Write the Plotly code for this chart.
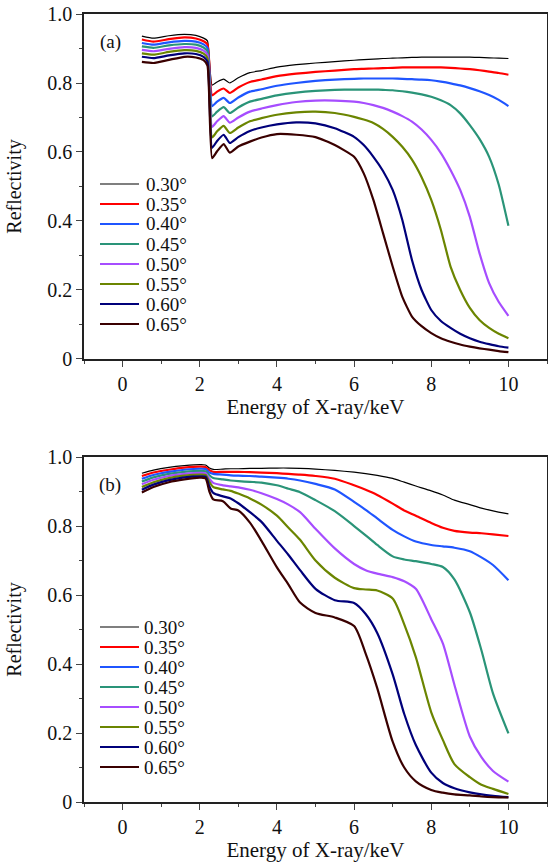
import plotly.graph_objects as go

# incidence angles and line colours
angles = ['0.30°', '0.35°', '0.40°', '0.45°', '0.50°', '0.55°', '0.60°', '0.65°']
colors = ['#000000', '#ff0000', '#1f55ff', '#2a9478', '#a64dff', '#6b8500', '#00007a', '#3a0000']
widths = [1.2, 2.2, 2.2, 2.2, 2.2, 2.2, 2.2, 2.2]

# ---- panel (a) ----
energy_a = [0.5, 0.8, 1.2, 1.6, 1.9, 2.1, 2.2, 2.32, 2.45, 2.62, 2.78, 3.0, 3.3, 3.6,
            4.0, 4.5, 5.0, 5.5, 6.0, 6.25, 6.5, 6.75, 7.0, 7.25, 7.5, 7.75, 8.0, 8.25,
            8.5, 8.75, 9.0, 9.25, 9.5, 9.75, 10.0]
refl_a_030 = [0.936, 0.930, 0.937, 0.941, 0.938, 0.930, 0.922, 0.794, 0.803, 0.811, 0.800,
              0.815, 0.830, 0.836, 0.846, 0.853, 0.858, 0.862, 0.866, 0.868, 0.869, 0.871, 0.872,
              0.873, 0.874, 0.875, 0.875, 0.875, 0.875, 0.875, 0.875, 0.874, 0.873, 0.872, 0.871]
refl_a_035 = [0.926, 0.920, 0.927, 0.932, 0.929, 0.921, 0.912, 0.764, 0.775, 0.784, 0.771,
              0.787, 0.803, 0.810, 0.820, 0.827, 0.832, 0.836, 0.840, 0.841, 0.842, 0.843, 0.844,
              0.845, 0.845, 0.845, 0.845, 0.845, 0.844, 0.842, 0.840, 0.837, 0.833, 0.829, 0.824]
refl_a_040 = [0.916, 0.911, 0.918, 0.922, 0.920, 0.912, 0.902, 0.733, 0.746, 0.757, 0.742,
              0.758, 0.775, 0.782, 0.792, 0.800, 0.806, 0.810, 0.812, 0.813, 0.813, 0.813, 0.813,
              0.812, 0.811, 0.810, 0.808, 0.804, 0.799, 0.793, 0.785, 0.776, 0.765, 0.751, 0.733]
refl_a_045 = [0.906, 0.902, 0.909, 0.913, 0.911, 0.903, 0.892, 0.703, 0.717, 0.730, 0.713,
              0.729, 0.746, 0.754, 0.764, 0.772, 0.777, 0.780, 0.781, 0.781, 0.781, 0.780, 0.779,
              0.776, 0.772, 0.767, 0.760, 0.750, 0.736, 0.712, 0.678, 0.638, 0.586, 0.505, 0.386]
refl_a_050 = [0.896, 0.892, 0.899, 0.904, 0.902, 0.894, 0.882, 0.673, 0.689, 0.704, 0.685,
              0.700, 0.717, 0.726, 0.736, 0.745, 0.749, 0.749, 0.746, 0.742, 0.736, 0.728, 0.717,
              0.704, 0.688, 0.665, 0.635, 0.597, 0.548, 0.490, 0.412, 0.307, 0.220, 0.165, 0.125]
refl_a_055 = [0.886, 0.882, 0.890, 0.895, 0.893, 0.885, 0.872, 0.642, 0.660, 0.676, 0.655,
              0.671, 0.689, 0.698, 0.708, 0.715, 0.717, 0.713, 0.702, 0.694, 0.684, 0.667, 0.644,
              0.615, 0.578, 0.527, 0.461, 0.374, 0.268, 0.200, 0.148, 0.113, 0.090, 0.073, 0.060]
refl_a_060 = [0.876, 0.872, 0.880, 0.886, 0.884, 0.876, 0.862, 0.612, 0.632, 0.650, 0.626,
              0.643, 0.661, 0.671, 0.680, 0.686, 0.683, 0.669, 0.644, 0.620, 0.586, 0.545, 0.490,
              0.403, 0.287, 0.200, 0.142, 0.110, 0.090, 0.073, 0.060, 0.050, 0.043, 0.037, 0.033]
refl_a_065 = [0.861, 0.858, 0.867, 0.876, 0.874, 0.866, 0.850, 0.582, 0.602, 0.623, 0.598,
              0.616, 0.630, 0.642, 0.652, 0.650, 0.643, 0.620, 0.586, 0.538, 0.461, 0.365, 0.268,
              0.180, 0.123, 0.095, 0.075, 0.060, 0.050, 0.042, 0.036, 0.031, 0.027, 0.023, 0.020]

# ---- panel (b) ----
energy_b = [0.5, 0.8, 1.2, 1.6, 2.0, 2.15, 2.25, 2.35, 2.6, 2.8, 3.0, 3.3, 3.6, 4.0, 4.3, 4.6,
            5.0, 5.5, 6.0, 6.3, 6.6, 7.0, 7.3, 7.6, 8.0, 8.3, 8.6, 9.0, 9.3, 9.6, 10.0]
refl_b_030 = [0.953, 0.962, 0.970, 0.975, 0.978, 0.977, 0.968, 0.964, 0.965, 0.966, 0.966, 0.967,
              0.967, 0.968, 0.968, 0.967, 0.965, 0.961, 0.956, 0.952, 0.947, 0.938, 0.927, 0.916,
              0.902, 0.890, 0.875, 0.862, 0.852, 0.844, 0.835]
refl_b_035 = [0.945, 0.955, 0.963, 0.969, 0.972, 0.971, 0.962, 0.957, 0.957, 0.957, 0.957, 0.956,
              0.955, 0.953, 0.951, 0.949, 0.945, 0.937, 0.918, 0.905, 0.890, 0.865, 0.845, 0.830,
              0.809, 0.795, 0.786, 0.781, 0.779, 0.776, 0.771]
refl_b_040 = [0.937, 0.948, 0.957, 0.963, 0.966, 0.965, 0.955, 0.951, 0.949, 0.947, 0.946, 0.945,
              0.943, 0.940, 0.937, 0.932, 0.922, 0.906, 0.870, 0.847, 0.822, 0.789, 0.770, 0.755,
              0.745, 0.741, 0.737, 0.727, 0.709, 0.687, 0.643]
refl_b_045 = [0.929, 0.941, 0.951, 0.957, 0.960, 0.959, 0.947, 0.939, 0.935, 0.932, 0.930, 0.928,
              0.926, 0.918, 0.908, 0.898, 0.875, 0.843, 0.800, 0.773, 0.745, 0.712, 0.703, 0.698,
              0.690, 0.681, 0.645, 0.550, 0.440, 0.315, 0.199]
refl_b_050 = [0.921, 0.934, 0.945, 0.951, 0.954, 0.953, 0.937, 0.925, 0.918, 0.915, 0.912, 0.905,
              0.895, 0.878, 0.862, 0.840, 0.792, 0.735, 0.690, 0.672, 0.662, 0.652, 0.640, 0.618,
              0.530, 0.460, 0.340, 0.190, 0.130, 0.090, 0.059]
refl_b_055 = [0.913, 0.927, 0.939, 0.946, 0.949, 0.948, 0.928, 0.913, 0.906, 0.902, 0.894, 0.880,
              0.862, 0.830, 0.795, 0.760, 0.700, 0.650, 0.620, 0.616, 0.613, 0.590, 0.515, 0.420,
              0.260, 0.180, 0.110, 0.072, 0.050, 0.038, 0.023]
refl_b_060 = [0.905, 0.920, 0.933, 0.941, 0.944, 0.943, 0.915, 0.896, 0.886, 0.880, 0.866, 0.840,
              0.812, 0.757, 0.716, 0.672, 0.618, 0.585, 0.577, 0.545, 0.490, 0.370, 0.255, 0.165,
              0.085, 0.055, 0.040, 0.028, 0.022, 0.018, 0.014]
refl_b_065 = [0.897, 0.913, 0.927, 0.935, 0.940, 0.938, 0.900, 0.877, 0.872, 0.851, 0.845, 0.810,
              0.757, 0.680, 0.630, 0.578, 0.548, 0.535, 0.510, 0.430, 0.330, 0.175, 0.100, 0.060,
              0.035, 0.027, 0.022, 0.019, 0.016, 0.014, 0.013]

series_a = [refl_a_030, refl_a_035, refl_a_040, refl_a_045, refl_a_050, refl_a_055, refl_a_060, refl_a_065]
series_b = [refl_b_030, refl_b_035, refl_b_040, refl_b_045, refl_b_050, refl_b_055, refl_b_060, refl_b_065]

y_tickvals = [0, 0.2, 0.4, 0.6, 0.8, 1.0]
y_ticktext = ['0', '0.2', '0.4', '0.6', '0.8', '1.0']

FONT = 'Liberation Serif'
W, H = 548, 865
ML, MR, MT, MB = 84, 1, 14, 63


def px_to_paper(px, py):
    return (px - ML) / (W - ML - MR), (H - MB - py) / (H - MT - MB)


fig = go.Figure()

for name, col, w, ya in zip(angles, colors, widths, series_a):
    fig.add_trace(go.Scatter(x=energy_a, y=ya, mode='lines', name=name, showlegend=False,
                             line=dict(color=col, width=w, shape='spline', smoothing=0.5),
                             xaxis='x', yaxis='y'))

for name, col, w, yb in zip(angles, colors, widths, series_b):
    fig.add_trace(go.Scatter(x=energy_b, y=yb, mode='lines', name=name, showlegend=False,
                             line=dict(color=col, width=w, shape='spline', smoothing=0.7),
                             xaxis='x2', yaxis='y2'))


def x_axis(anchor):
    return dict(range=[-1, 11], dtick=2, tick0=0, ticks='outside', ticklen=6, tickwidth=1.2,
                minor=dict(dtick=1, tick0=1, ticks='outside', ticklen=3, tickwidth=1),
                showline=True, linecolor='#222', linewidth=1.5, mirror=True,
                showgrid=False, zeroline=False, anchor=anchor, automargin=False,
                ticklabeloverflow='allow',
                title=dict(text='Energy of X-ray/keV', standoff=6, font=dict(size=21)),
                tickfont=dict(size=20))


def y_axis(domain, anchor):
    return dict(range=[0, 1], domain=domain, tickvals=y_tickvals, ticktext=y_ticktext,
                ticks='outside', ticklen=6, tickwidth=1.2,
                minor=dict(dtick=0.1, tick0=0, ticks='outside', ticklen=3, tickwidth=1),
                showline=True, linecolor='#222', linewidth=1.5, mirror=True,
                showgrid=False, zeroline=False, anchor=anchor, automargin=False,
                ticklabeloverflow='allow',
                title=dict(text='Reflectivity', standoff=20, font=dict(size=20)),
                tickfont=dict(size=20))


# panel domains from screen rows 14-359 and 457-802
_, ya_top = px_to_paper(0, 14)
_, ya_bot = px_to_paper(0, 359)
_, yb_top = px_to_paper(0, 457)
_, yb_bot = px_to_paper(0, 802)

# hand-built legends (tight 20 px rows like the original)
shapes = []
annotations = []
for first_row, text_x in [(184, 144), (627, 142)]:
    for i, (name, col, w) in enumerate(zip(angles, colors, widths)):
        py = first_row + 20 * i
        x0, y0 = px_to_paper(100, py)
        x1, _ = px_to_paper(139, py)
        tx, _ = px_to_paper(text_x, py)
        shapes.append(dict(type='line', xref='paper', yref='paper', x0=x0, x1=x1, y0=y0, y1=y0,
                           line=dict(color=col, width=w)))
        annotations.append(dict(text=name, xref='paper', yref='paper', x=tx, y=y0,
                                xanchor='left', yanchor='middle', showarrow=False,
                                font=dict(size=19)))

for label, (lx, ly) in [('(a)', (110, 42)), ('(b)', (110, 485))]:
    ax, ay = px_to_paper(lx, ly)
    annotations.append(dict(text=label, xref='paper', yref='paper', x=ax, y=ay,
                            xanchor='center', yanchor='middle',
                            showarrow=False, font=dict(size=19)))

fig.update_layout(
    width=W, height=H,
    margin=dict(l=ML, r=MR, t=MT, b=MB),
    paper_bgcolor='white', plot_bgcolor='white',
    font=dict(family=FONT, color='#111'),
    xaxis=x_axis('y'),
    yaxis=y_axis([round(ya_bot, 4), round(ya_top, 4)], 'x'),
    xaxis2=x_axis('y2'),
    yaxis2=y_axis([round(yb_bot, 4), round(yb_top, 4)], 'x2'),
    showlegend=False,
    shapes=shapes,
    annotations=annotations,
)

# drop the browser's default 8 px page margin so the figure fills the window
fig.write_html("out.html", config={'displayModeBar': False},
               post_script="document.body.style.margin='0';")
